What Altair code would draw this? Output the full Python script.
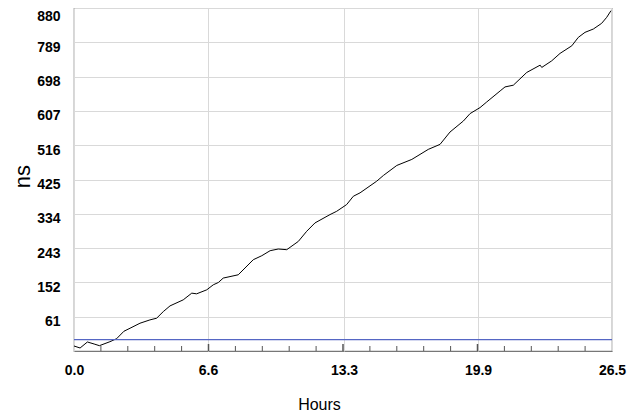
import altair as alt
import pandas as pd

# Curve (hours, ns)
hours = [0.00, 0.30, 0.66, 0.99, 1.25, 1.77, 2.10, 2.46, 2.76, 3.25, 3.74, 4.07, 4.40, 4.73,
         5.38, 5.80, 6.04, 6.54, 6.86, 7.11, 7.35, 8.09, 8.83, 9.25, 9.66, 10.06, 10.48,
         11.05, 11.46, 11.87, 12.61, 12.94, 13.43, 13.76, 14.09, 14.91, 15.24, 15.90,
         16.64, 17.45, 18.03, 18.52, 19.18, 19.51, 20.00, 20.33, 20.99, 21.23, 21.64,
         22.30, 22.96, 23.04, 23.53, 23.94, 24.52, 24.84, 25.17, 25.58, 25.99, 26.24, 26.45]
ns = [-16.7, -22.0, -6.1, -11.4, -15.9, -5.3, 2.7, 22.4, 30.4, 43.7, 52.5, 57.0, 74.6, 89.7,
      105.7, 123.5, 121.7, 132.3, 145.6, 151.7, 163.5, 172.2, 212.2, 222.8, 236.1, 240.6, 238.8,
      260.8, 287.5, 309.8, 331.9, 340.7, 358.5, 380.6, 389.6, 420.5, 435.7, 462.3,
      478.3, 504.9, 518.2, 550.9, 580.2, 599.9, 615.8, 630.7, 660.0, 670.6, 675.2,
      709.0, 728.4, 722.3, 739.8, 759.5, 779.7, 802.1, 815.4, 824.2, 839.3, 855.3, 872.9]

x_ticks = [0.0, 6.6, 13.3, 19.9, 26.5]
y_ticks = [61, 152, 243, 334, 425, 516, 607, 698, 789, 880]
x_minor = [1.325, 2.65, 3.975, 5.3, 7.95, 9.275, 10.6, 11.925, 14.575, 15.9, 17.225,
           18.55, 21.2, 22.525, 23.85, 25.175]
x_major = [6.625, 13.25, 19.875]
ref_level = [0]

W, H = 538, 343
FONT = "Liberation Sans"

df = pd.DataFrame({"h": hours, "v": ns})

xscale = alt.Scale(domain=[0, 26.5], nice=False, zero=False)
yscale = alt.Scale(domain=[-30, 880], nice=False, zero=False)

xaxis = alt.Axis(
    title="Hours", values=x_ticks, format=".1f", grid=True, ticks=False,
    domain=False, labelFont=FONT, labelFontSize=14, labelFontWeight="bold",
    labelColor="black", labelPadding=12, labelFlush=False, labelOverlap=False,
    titleFont=FONT, titleFontSize=16, titleFontWeight="normal", titleColor="black",
    titleX=245, titleY=58, titleBaseline="alphabetic", titleAnchor="start",
    titleAlign="center", gridColor="#d9d9d9")
yaxis = alt.Axis(
    title="ns", values=y_ticks, grid=True, ticks=False, domain=False,
    labelFont=FONT, labelFontSize=14, labelFontWeight="bold", labelColor="black",
    labelPadding=14,
    labelOffset={"condition": {"test": "datum.value >= 880", "value": 8}, "value": 5},
    labelOverlap=False, labelFlush=False,
    titleFont=FONT, titleFontSize=22,
    titleFontWeight="normal", titleColor="black", titleX=-52, titleY=168,
    titleAngle=270, titleAlign="center", titleBaseline="middle",
    gridColor="#d9d9d9")

line = alt.Chart(df).mark_line(color="black", strokeWidth=1).encode(
    x=alt.X("h:Q", scale=xscale, axis=xaxis),
    y=alt.Y("v:Q", scale=yscale, axis=yaxis),
)

ref = alt.Chart(pd.DataFrame({"v": ref_level})).mark_rule(
    color="#5566c4", strokeWidth=1.2).encode(y=alt.Y("v:Q", scale=yscale, axis=yaxis))

minor = alt.Chart(pd.DataFrame({"h": x_minor})).mark_rule(
    color="#555555", strokeWidth=1).encode(
    x=alt.X("h:Q", scale=xscale, axis=xaxis), y=alt.value(H - 5), y2=alt.value(H))

major = alt.Chart(pd.DataFrame({"h": x_major})).mark_rule(
    color="#555555", strokeWidth=1.5).encode(
    x=alt.X("h:Q", scale=xscale, axis=xaxis), y=alt.value(H - 7), y2=alt.value(H))

chart = alt.layer(line, ref, minor, major).properties(
    width=W, height=H,
    autosize=alt.AutoSizeParams(type="none"),
    padding={"left": 66, "top": 0, "right": 22, "bottom": 60},
    background="white",
).configure_view(stroke="#777777", strokeWidth=1.2)

chart.save("out.html", embed_options={"renderer": "svg", "actions": False})
